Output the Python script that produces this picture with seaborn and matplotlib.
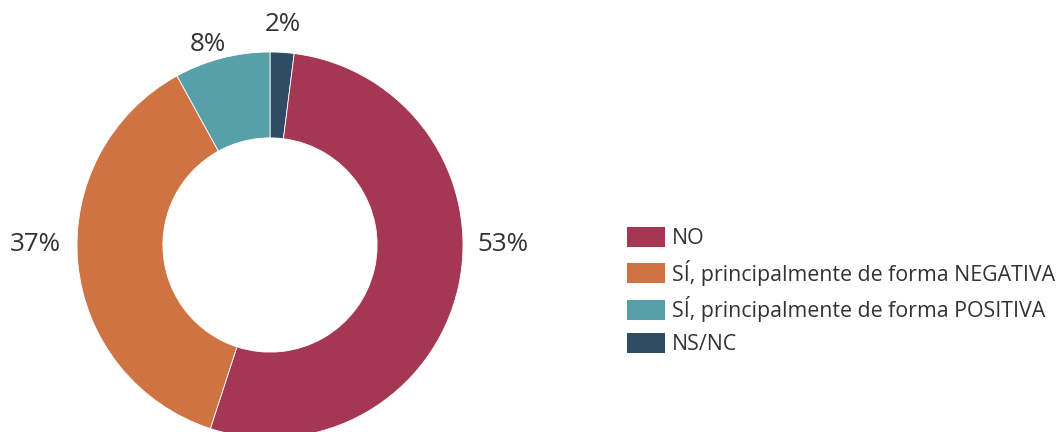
import matplotlib
matplotlib.use('Agg')
import matplotlib.pyplot as plt
import seaborn as sns

# datos
categorias = ['NO', 'SÍ, principalmente de forma NEGATIVA',
              'SÍ, principalmente de forma POSITIVA', 'NS/NC']
valores = [53, 37, 8, 2]
etiquetas = ['53%', '37%', '8%', '2%']
colores = ['#A43752', '#D07342', '#58A0A7', '#2F4C64']

sns.set_theme(style='white')
plt.rcParams['font.family'] = ['Open Sans', 'DejaVu Sans']
plt.rcParams['text.color'] = '#333333'

fig = plt.figure(figsize=(10.58, 4.32), dpi=100)

# ejes en pixeles: centro (270, 245), radio 193 px
R = 193.0
half = 250.0
ax = fig.add_axes([(270 - half) / 1058, (432 - 245 - half) / 432,
                   2 * half / 1058, 2 * half / 432])

# orden en el sentido de las agujas del reloj desde arriba: NS/NC, NO, NEG, POS
orden = [3, 0, 1, 2]
wedges, _ = ax.pie([valores[i] for i in orden],
                   colors=[colores[i] for i in orden],
                   startangle=90, counterclock=False, radius=1.0,
                   wedgeprops=dict(width=0.445, edgecolor='white', linewidth=0.6))
ax.set_xlim(-half / R, half / R)
ax.set_ylim(-half / R, half / R)
ax.set_aspect('equal')
ax.axis('off')

# etiquetas de porcentaje
pos_etiquetas = {'53%': (1.207, 0.005), '37%': (-1.218, 0.0),
                 '8%': (-0.32, 1.04), '2%': (0.067, 1.14)}
for et in etiquetas:
    x, y = pos_etiquetas[et]
    ax.text(x, y, et, ha='center', va='center', fontsize=18.7, color='#333333')

# leyenda
handles = [wedges[orden.index(i)] for i in range(len(categorias))]
leg = fig.legend(handles, categorias, loc='center left',
                 bbox_to_anchor=(627 / 1058, 1 - 291 / 432),
                 frameon=False, fontsize=15.4, borderpad=0, borderaxespad=0,
                 handlelength=1.78, handleheight=1.08, handletextpad=0.33,
                 labelspacing=0.5)
for h in leg.legend_handles:
    h.set_edgecolor('none')

fig.savefig('out.png', dpi=100)
